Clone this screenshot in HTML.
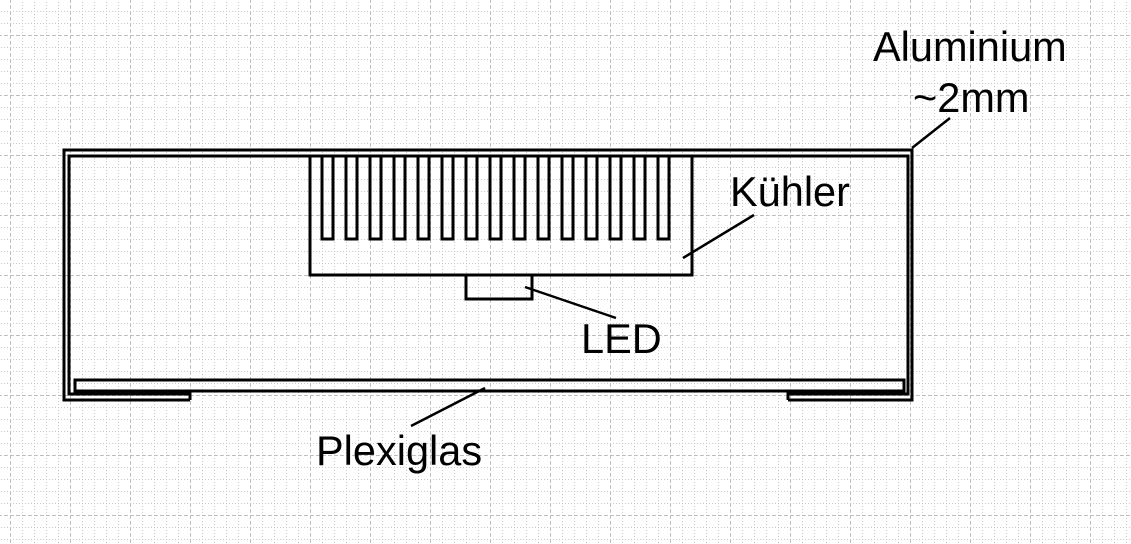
<!DOCTYPE html>
<html><head><meta charset="utf-8"><style>
html,body{margin:0;padding:0;background:#fff;}
svg{display:block;}
text{font-family:"Liberation Sans",Arial,sans-serif;font-size:41.5px;fill:#000;}
</style></head><body>
<svg width="1131" height="544" viewBox="0 0 1131 544" xmlns="http://www.w3.org/2000/svg">
<defs>
<pattern id="minor" x="10" y="35" width="12" height="12" patternUnits="userSpaceOnUse">
<path d="M0 0.5H12M0.5 0V12" stroke="#c8c8c8" stroke-width="1" stroke-dasharray="1 2" fill="none"/>
</pattern>
<pattern id="major" x="10" y="35" width="60" height="60" patternUnits="userSpaceOnUse">
<path d="M0 0.5H60M0.5 0V60" stroke="#bdbdbd" stroke-width="1" stroke-dasharray="3 3" fill="none"/>
</pattern>
</defs>
<rect width="1131" height="544" fill="#fff"/>
<rect width="1131" height="544" fill="url(#minor)"/>
<rect width="1131" height="544" fill="url(#major)"/>
<g fill="none" stroke="#000" stroke-width="3">
<path d="M190 400 L64 400 L64 150 L912 150 L912 400 L788 400"/>
<path d="M190 400 L190 394 L69 394 L69 156 L908 156 L908 394 L788 394 L788 400"/>
<rect x="75" y="380" width="829" height="11"/>
<path d="M310 156 L310 275 L692 275 L692 156"/>
<rect x="466" y="275" width="66" height="24"/>
<line x1="912" y1="148" x2="950" y2="118" stroke-width="2.5"/>
<line x1="754" y1="215" x2="683" y2="258" stroke-width="2.5"/>
<line x1="525" y1="287" x2="616" y2="318" stroke-width="2.5"/>
<line x1="485" y1="388" x2="411" y2="426" stroke-width="2.5"/>
<path d="M322 156V239H333V156 M346 156V239H357V156 M370 156V239H381V156 M394 156V239H405V156 M418 156V239H429V156 M442 156V239H453V156 M466 156V239H477V156 M490 156V239H501V156 M514 156V239H525V156 M538 156V239H549V156 M562 156V239H573V156 M586 156V239H597V156 M610 156V239H621V156 M634 156V239H645V156 M658 156V239H669V156"/>
</g>
<text x="873" y="61">Aluminium</text>
<text x="913" y="112">~2mm</text>
<text x="730" y="206">Kühler</text>
<text x="581" y="353">LED</text>
<text x="316" y="465">Plexiglas</text>
</svg>
</body></html>
